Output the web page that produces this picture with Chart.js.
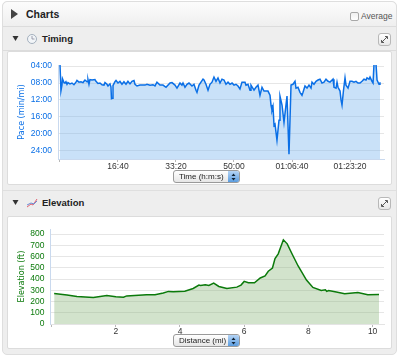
<!DOCTYPE html>
<html>
<head>
<meta charset="utf-8">
<script src="https://cdn.jsdelivr.net/npm/chart.js@4"></script>
<style>
html, body { margin: 0; padding: 0; background: #fff; }
body { width: 400px; height: 358px; position: relative; overflow: hidden; font-family: "Liberation Sans", sans-serif; color: #222; filter: blur(0.3px); }
.abs { position: absolute; }
#outer { left: 2px; top: 1px; width: 393px; height: 352px; border: 1px solid #dedede; border-radius: 5px; background: #eeeeee; }
#head { left: 3px; top: 2px; width: 393px; height: 24px; border-bottom: 1px solid #dcdcdc; border-radius: 5px 5px 0 0; background: linear-gradient(#fcfcfc, #efefef); }
.panel { left: 7px; width: 385px; height: 133px; background: #fff; border: 1px solid #dcdcdc; box-sizing: border-box; border-radius: 2px; }
.sep { left: 3px; width: 393px; height: 1px; background: #dfdfdf; }
.title { font-weight: bold; white-space: nowrap; line-height: 1; }
canvas { position: absolute; }
.select { left: 173px; width: 67px; height: 13px; box-sizing: border-box; border: 1px solid #9a9a9a; border-radius: 3px; background: linear-gradient(#fff, #e6e6e6); font-size: 8px; line-height: 11px; padding-left: 5px; color: #222; white-space: nowrap; overflow: hidden; }
.select i { position: absolute; right: 0; top: 0; width: 11px; height: 11px; background: linear-gradient(#b5d4f5, #5b9de0); }
.select svg { position: absolute; right: 3px; top: 1.5px; }
.expand { left: 378px; width: 13px; height: 13px; box-sizing: border-box; border: 1px solid #b8b8b8; border-radius: 3px; background: linear-gradient(#fff, #e8e8e8); }
</style>
</head>
<body>
<div class="abs" id="outer"></div>
<div class="abs" id="head"></div>
<svg class="abs" style="left:10px;top:8px" width="9" height="12"><polygon points="1,1 8,6 1,11" fill="#444"/></svg>
<div class="abs title" style="left:26px;top:9px;font-size:10.5px">Charts</div>
<div class="abs" style="left:350px;top:12px;width:7px;height:7px;border:1px solid #a8a8a8;border-radius:2px;background:linear-gradient(#f0f0f0,#fff)"></div>
<div class="abs" style="left:361px;top:11px;font-size:8.5px;color:#555">Average</div>

<div class="abs" style="left:3px;top:50px;width:393px;height:1px;background:#dcdcdc"></div>
<svg class="abs" style="left:12px;top:35px" width="7" height="7"><polygon points="0.5,1 6.5,1 3.5,6" fill="#333"/></svg>
<svg class="abs" style="left:26px;top:33px" width="12" height="12"><circle cx="6" cy="6" r="4.5" fill="#f2f5f8" stroke="#a4b0be"/><path d="M6 3V6H8.5" fill="none" stroke="#889" stroke-width=".8"/></svg>
<div class="abs title" style="left:42px;top:34px;font-size:9.5px">Timing</div>
<div class="abs expand" style="top:33px"><svg width="11" height="11" style="display:block"><path d="M3 8L8 3M6 2.5H8.5V5M2.5 6V8.5H5" fill="none" stroke="#333" stroke-width=".8"/></svg></div>

<div class="abs panel" style="top:51px;height:134px"></div>
<div class="abs sep" style="top:190px"></div>
<svg class="abs" style="left:12px;top:199px" width="7" height="7"><polygon points="0.5,1 6.5,1 3.5,6" fill="#333"/></svg>
<svg class="abs" style="left:26px;top:197px" width="12" height="12"><path d="M1 10L5 7L7 8L11 2" fill="none" stroke="#e06070" stroke-width="1"/><path d="M1 8L5 6L8 7L11 4" fill="none" stroke="#6a8fd8" stroke-width="1"/></svg>
<div class="abs title" style="left:42px;top:198px;font-size:9.5px">Elevation</div>
<div class="abs expand" style="top:197px"><svg width="11" height="11" style="display:block"><path d="M3 8L8 3M6 2.5H8.5V5M2.5 6V8.5H5" fill="none" stroke="#333" stroke-width=".8"/></svg></div>
<div class="abs panel" style="top:216px"></div>

<canvas id="timing" width="383" height="132" style="left:8px;top:52px"></canvas>
<canvas id="elevation" width="383" height="132" style="left:8px;top:217px"></canvas>

<div class="abs select" style="top:170px">Time (h:m:s)<i></i><svg width="5" height="8"><path d="M2.5 0.5L4.5 3H0.5ZM2.5 7.5L4.5 5H0.5Z" fill="#123"/></svg></div>
<div class="abs select" style="top:334px">Distance (mi)<i></i><svg width="5" height="8"><path d="M2.5 0.5L4.5 3H0.5ZM2.5 7.5L4.5 5H0.5Z" fill="#123"/></svg></div>

<script>
// pace over time, seconds / minutes per mile
const timeValues = [0,17,34,43,69,86,103,121,138,172,207,241,276,293,328,362,397,431,466,483,500,517,552,603,621,655,690,724,759,776,810,828,862,879,888,905,914,948,966,1000,1034,1069,1103,1138,1172,1207,1241,1276,1293,1328,1379,1466,1500,1552,1603,1638,1672,1724,1776,1828,1897,1931,1983,2017,2069,2103,2121,2155,2190,2224,2276,2310,2345,2362,2397,2466,2483,2517,2552,2586,2621,2655,2690,2724,2759,2793,2828,2862,2897,2931,2966,3000,3034,3069,3103,3138,3190,3207,3241,3276,3293,3345,3379,3414,3448,3483,3517,3552,3586,3621,3638,3655,3672,3690,3707,3741,3776,3793,3828,3862,3914,3948,3983,4017,4052,4069,4103,4138,4172,4190,4224,4259,4293,4328,4345,4379,4414,4448,4483,4517,4552,4586,4621,4655,4707,4724,4759,4776,4793,4828,4845,4862,4888,4914,4931,4966,5000,5034,5069,5103,5138,5172,5207,5241,5276,5293,5328,5345,5379,5397,5414,5448,5466,5500,5517];
const paceValues = [3.5,9.8,8.5,7.0,7.9,8.0,7.7,8.3,7.9,8.2,8.0,8.4,7.8,7.4,7.8,7.7,7.9,7.3,7.7,7.2,8.3,7.2,7.3,7.2,7.6,8.1,8.0,8.4,8.5,7.9,8.3,8.7,8.2,8.9,11.7,11.6,8.6,7.7,7.4,8.0,7.6,8.3,7.7,8.3,7.6,8.2,7.6,7.4,8.3,8.7,8.5,8.5,8.3,8.5,8.4,8.7,7.8,8.5,8.5,9.0,8.0,7.9,8.5,9.2,8.0,8.5,8.0,9.0,8.3,8.0,8.7,8.3,9.7,10.2,8.5,7.1,7.3,8.3,9.7,8.3,7.8,6.6,7.6,6.8,8.0,7.1,7.3,8.3,7.8,8.3,8.0,8.5,8.3,8.7,9.4,7.8,7.8,8.5,8.3,9.7,8.5,9.7,9.0,8.5,10.9,9.0,9.9,9.9,9.9,10.9,13.2,14.4,13.5,18.0,17.7,21.5,16.8,11.1,13.2,17.3,11.1,24.8,8.5,8.3,7.6,9.2,9.0,10.2,10.9,10.2,8.7,9.2,8.5,9.2,7.8,8.3,7.6,7.3,7.1,8.0,7.8,7.1,7.6,7.8,7.1,9.0,9.2,7.8,9.0,9.9,12.0,13.2,9.7,6.8,8.5,9.2,7.6,7.6,7.8,7.6,8.0,8.0,7.6,7.1,7.3,6.8,7.1,6.6,7.6,8.0,3.5,3.5,7.3,8.3,7.8];
const paceTicks = [4,8,12,16,20,24];
const paceTickLabels = ["04:00","08:00","12:00","16:00","20:00","24:00"];
const timeTicks = [0,1000,2000,3000,4000,5000];
const timeTickLabels = ["","16:40","33:20","50:00","01:06:40","01:23:20"];

// elevation over distance, miles / feet
const distanceValues = [0.08,0.48,0.79,1.3,1.72,2.0,2.24,2.34,2.96,3.22,3.48,3.64,3.79,4.15,4.41,4.59,4.64,4.79,4.9,5.05,5.21,5.46,5.77,5.9,6.0,6.13,6.32,6.5,6.65,6.75,6.88,6.96,7.06,7.22,7.34,7.5,7.68,7.94,8.14,8.4,8.53,8.57,8.63,8.87,9.13,9.54,9.85,10.2];
const elevationValues = [272,257,245,236,254,242,239,250,260,260,275,290,287,292,316,346,343,349,343,364,334,316,328,346,379,367,367,409,427,469,498,582,624,749,713,618,516,391,325,298,304,290,298,284,269,280,260,263];
const elevationTicks = [0,100,200,300,400,500,600,700,800];
const distanceTicks = [0,2,4,6,8,10];

const gridColor = "#e6e6e6";
const blue = "#0a6fe6";
const green = "#0b7a0b";

function makeChart(id, o) {
  return new Chart(document.getElementById(id), {
    type: "line",
    data: {
      datasets: [{
        data: o.xs.map(function (x, i) { return { x: x, y: o.ys[i] }; }),
        borderColor: o.line,
        borderWidth: 1.5,
        backgroundColor: o.fillColor,
        fill: o.fill,
        pointRadius: 0,
        tension: 0,
      }],
    },
    options: {
      responsive: false,
      animation: false,
      events: [],
      layout: { padding: { top: o.top, right: 7 } },
      plugins: { legend: { display: false }, tooltip: { enabled: false } },
      scales: {
        x: {
          type: "linear",
          min: o.xMin,
          max: o.xMax,
          afterBuildTicks: function (axis) {
            axis.ticks = o.xTicks.map(function (v) { return { value: v }; });
          },
          afterFit: function (axis) { axis.height = o.xHeight; },
          border: { color: o.xBorder },
          grid: { drawOnChartArea: false, tickLength: 3, tickColor: "#b8b8b8" },
          ticks: {
            autoSkip: false,
            maxRotation: 0,
            padding: 0,
            color: "#333",
            font: { family: "Liberation Sans", size: 8.5 },
            callback: o.xLabel,
          },
        },
        y: {
          min: o.yMin,
          max: o.yMax,
          reverse: o.reverse,
          afterBuildTicks: function (axis) {
            axis.ticks = o.yTicks.map(function (v) { return { value: v }; });
          },
          afterFit: function (axis) { axis.width = o.yWidth; },
          border: { color: "#c9d9ee" },
          grid: { color: gridColor, drawTicks: false },
          title: {
            display: true,
            text: o.title,
            color: o.line,
            padding: { top: 9, bottom: 0 },
            font: { family: "DejaVu Sans", size: 8 },
          },
          ticks: {
            autoSkip: false,
            padding: 6,
            color: o.line,
            font: { family: "Liberation Sans", size: 8.5 },
            callback: o.yLabel,
          },
        },
      },
    },
  });
}

makeChart("timing", {
  xs: timeValues, ys: paceValues,
  line: blue, fillColor: "rgba(120,180,238,0.4)", fill: "start", top: 13,
  xMin: -34, xMax: 5586, xTicks: timeTicks, xHeight: 25, xBorder: "#c9d9ee",
  xLabel: function (v) { return timeTickLabels[timeTicks.indexOf(v)]; },
  yMin: 3.75, yMax: 25.94, reverse: true, yTicks: paceTicks, yWidth: 50,
  yLabel: function (v) { return paceTickLabels[paceTicks.indexOf(v)]; },
  title: "Pace (min/mi)",
});

makeChart("elevation", {
  xs: distanceValues, ys: elevationValues,
  line: green, fillColor: "rgba(125,175,110,0.35)", fill: "origin", top: 12,
  xMin: -0.034, xMax: 10.355, xTicks: distanceTicks, xHeight: 25, xBorder: "#e4e4e4",
  xLabel: function (v) { return v === 0 ? "" : String(v); },
  yMin: 0, yMax: 845, reverse: false, yTicks: elevationTicks, yWidth: 42.5,
  yLabel: function (v) { return String(v); },
  title: "Elevation (ft)",
});
</script>
</body>
</html>
